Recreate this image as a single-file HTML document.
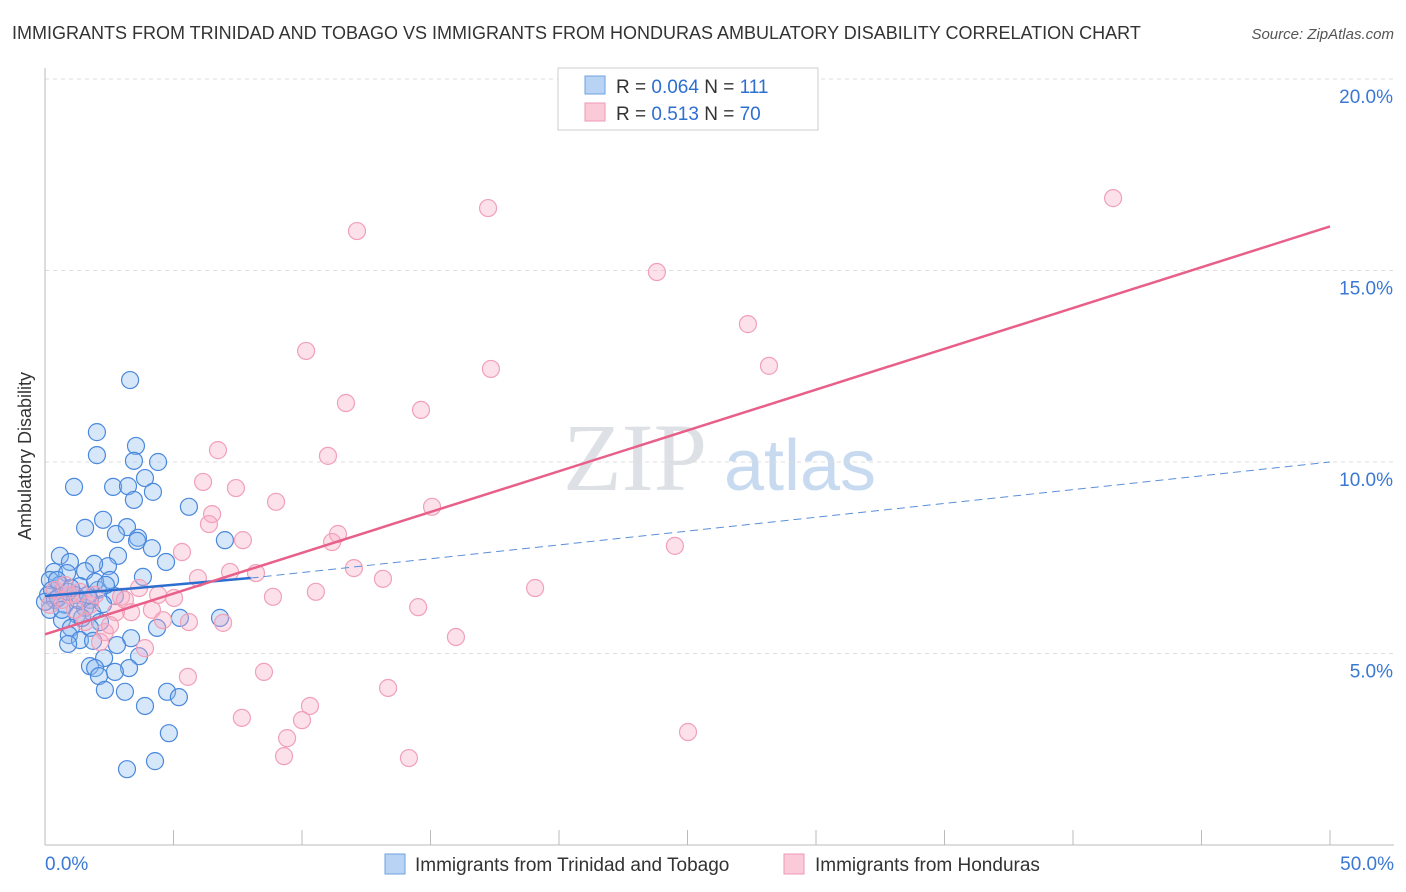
<!DOCTYPE html>
<html><head><meta charset="utf-8"><style>
body{margin:0;background:#fff;font-family:"Liberation Sans",sans-serif}
svg{display:block}
</style></head><body>
<svg id="chart" width="1406" height="892" xmlns="http://www.w3.org/2000/svg">
<text x="12" y="39" font-size="18" fill="#333">IMMIGRANTS FROM TRINIDAD AND TOBAGO VS IMMIGRANTS FROM HONDURAS AMBULATORY DISABILITY CORRELATION CHART</text>
<text x="1394" y="39" font-size="15" fill="#555" font-style="italic" text-anchor="end">Source: ZipAtlas.com</text>
<text x="31" y="456" font-size="18" fill="#333" transform="rotate(-90 31 456)" text-anchor="middle">Ambulatory Disability</text>
<text x="635" y="490" font-size="96" fill="#dde0e4" font-family="Liberation Serif" text-anchor="middle">ZIP</text>
<text x="800" y="490" font-size="72" fill="#c8daf0" text-anchor="middle">atlas</text>
<g id="grid"></g><g id="axes"></g><g id="pts"></g><g id="trends"></g>
<g>
<rect x="558" y="68" width="260" height="62" fill="#fff" stroke="#ccc"/>
<rect x="585" y="76" width="20" height="18" fill="#b9d3f5" stroke="#6fa0e0"/>
<rect x="585" y="103" width="20" height="18" fill="#fbcad8" stroke="#ee9ab4"/>
<text x="616" y="93" font-size="19" fill="#333">R = <tspan fill="#2d6fd0">0.064</tspan>   N = <tspan fill="#2d6fd0">111</tspan></text>
<text x="616" y="120" font-size="19" fill="#333">R =  <tspan fill="#2d6fd0">0.513</tspan>   N = <tspan fill="#2d6fd0">70</tspan></text>
</g>
<g>
<rect x="385" y="854" width="20" height="20" fill="#b9d3f5" stroke="#6fa0e0"/>
<text x="415" y="871" font-size="19" fill="#333">Immigrants from Trinidad and Tobago</text>
<rect x="784" y="854" width="20" height="20" fill="#fbcad8" stroke="#ee9ab4"/>
<text x="815" y="871" font-size="19" fill="#333">Immigrants from Honduras</text>
</g>
</svg>
<script>
const yTicks=[5,10,15,20];
const yTickLabels=["5.0%","10.0%","15.0%","20.0%"];
const xTickLabels=["0.0%","50.0%"];
const blueX=[3.31,2.02,3.54,2.02,3.46,4.40,1.13,2.65,3.89,3.23,3.46,4.20,5.60,2.26,1.56,3.19,2.76,3.62,3.58,4.16,7.00,0.58,2.84,4.71,2.45,1.91,0.97,0.35,0.86,1.56,3.81,2.53,0.19,0.58,1.36,2.06,1.17,0.12,0.39,1.75,2.72,0.78,1.56,0.19,1.83,1.25,0.66,6.81,5.25,2.14,1.01,1.75,4.36,0.93,1.36,3.35,2.80,0.90,1.87,3.66,2.30,1.75,1.95,3.27,2.72,2.10,2.33,3.11,4.75,5.21,3.89,4.82,4.28,3.19,0.27,0.51,0.90,1.28,0.66,1.67,0,1.01,2.26,1.44,0.47,1.95,2.37];
const blueY=[12.14,10.78,10.42,10.18,10.03,10.0,9.35,9.35,9.58,9.37,9.01,9.22,8.83,8.49,8.28,8.30,8.12,8.02,7.94,7.75,7.96,7.55,7.55,7.39,7.28,7.34,7.39,7.13,7.10,7.15,7.00,6.92,6.92,6.79,6.76,6.66,6.53,6.53,6.40,6.40,6.50,6.27,6.19,6.14,6.08,6.01,5.87,5.93,5.93,5.82,5.67,5.67,5.67,5.48,5.35,5.40,5.22,5.25,5.33,4.93,4.88,4.67,4.62,4.62,4.52,4.41,4.05,4.00,4.00,3.86,3.63,2.92,2.19,1.98,6.66,6.45,6.61,6.40,6.14,6.53,6.35,6.71,6.29,5.93,6.92,6.87,6.79];
const pinkX=[41.56,17.24,12.14,23.81,27.35,10.16,17.35,28.17,11.71,14.63,6.73,11.01,6.15,7.43,8.99,15.06,6.50,6.38,11.40,11.17,7.70,5.33,24.51,12.02,7.20,8.21,13.15,5.95,19.07,10.54,3.66,8.87,5.02,2.96,14.52,4.16,3.35,2.76,5.60,6.93,4.59,2.33,15.99,3.89,2.14,8.52,5.56,13.35,10.31,7.66,10.00,25.02,9.42,9.30,14.16,0.39,0.66,0.97,0.19,1.36,1.75,0.78,1.95,1.17,1.56,2.53,3.11,4.40];
const pinkY=[16.89,16.63,16.03,14.96,13.60,12.90,12.43,12.51,11.54,11.36,10.31,10.16,9.48,9.32,8.96,8.83,8.64,8.38,8.12,7.91,7.96,7.65,7.81,7.23,7.13,7.10,6.95,6.97,6.71,6.61,6.71,6.48,6.45,6.48,6.21,6.14,6.08,6.08,5.82,5.80,5.87,5.56,5.43,5.14,5.30,4.52,4.39,4.10,3.63,3.32,3.26,2.95,2.79,2.32,2.27,6.66,6.40,6.53,6.27,6.61,6.27,6.79,6.53,6.14,5.82,5.74,6.40,6.53];
const blueTrend=[0,6.5,8,6.97,50,10.0];
const pinkTrend=[0,5.5,50,16.15];
const NS="http://www.w3.org/2000/svg";
const X=v=>45+v/50*1285, Y=v=>845-v/5*191.5;
function mk(t,a,p){const e=document.createElementNS(NS,t);for(const k in a)e.setAttribute(k,a[k]);p.appendChild(e);return e;}
const grid=document.getElementById('grid'),axes=document.getElementById('axes'),pts=document.getElementById('pts'),tr=document.getElementById('trends');
yTicks.forEach((v,i)=>{
 const l=mk('line',{x1:45,x2:1394,y1:Y(v),y2:Y(v),stroke:'#ddd','stroke-dasharray':'4,4'},grid);
 
 
 const t=mk('text',{x:1393,y:Y(v)+24,'font-size':19,fill:'#3a78d4','text-anchor':'end'},grid);
 t.textContent=yTickLabels[i];
 
 
});
const ya=mk('line',{x1:45,x2:45,y1:68,y2:845,stroke:'#bbb'},axes);


const xa=mk('line',{x1:45,x2:1394,y1:845,y2:845,stroke:'#bbb'},axes);


for(let i=0;i<=10;i++){const tk=mk('line',{x1:X(i*5),x2:X(i*5),y1:830,y2:845,stroke:'#bbb'},axes);
 
 }
[[0,'start',45],[1,'end',1394]].forEach(([i,a,x])=>{const t=mk('text',{x:x,y:870,'font-size':19,fill:'#3a78d4','text-anchor':a},axes);t.textContent=xTickLabels[i];
 
 });
blueX.forEach((v,i)=>{const c=mk('circle',{cx:X(v),cy:Y(blueY[i]),r:8.5,fill:'rgba(140,185,240,0.35)',stroke:'#4a88dc','stroke-width':1.2},pts);
 
 });
pinkX.forEach((v,i)=>{const c=mk('circle',{cx:X(v),cy:Y(pinkY[i]),r:8.5,fill:'rgba(248,170,195,0.35)',stroke:'#f0a0b8','stroke-width':1.2},pts);
 
 });
const b1=mk('line',{x1:X(blueTrend[0]),y1:Y(blueTrend[1]),x2:X(blueTrend[2]),y2:Y(blueTrend[3]),stroke:'#2d6fd0','stroke-width':2.5},tr);


const b2=mk('line',{x1:X(blueTrend[2]),y1:Y(blueTrend[3]),x2:X(blueTrend[4]),y2:Y(blueTrend[5]),stroke:'#5b8fd8','stroke-width':1,'stroke-dasharray':'8,5'},tr);


const p1=mk('line',{x1:X(pinkTrend[0]),y1:Y(pinkTrend[1]),x2:X(pinkTrend[2]),y2:Y(pinkTrend[3]),stroke:'#e8608a','stroke-width':2.5},tr);


</script>
</body></html>
